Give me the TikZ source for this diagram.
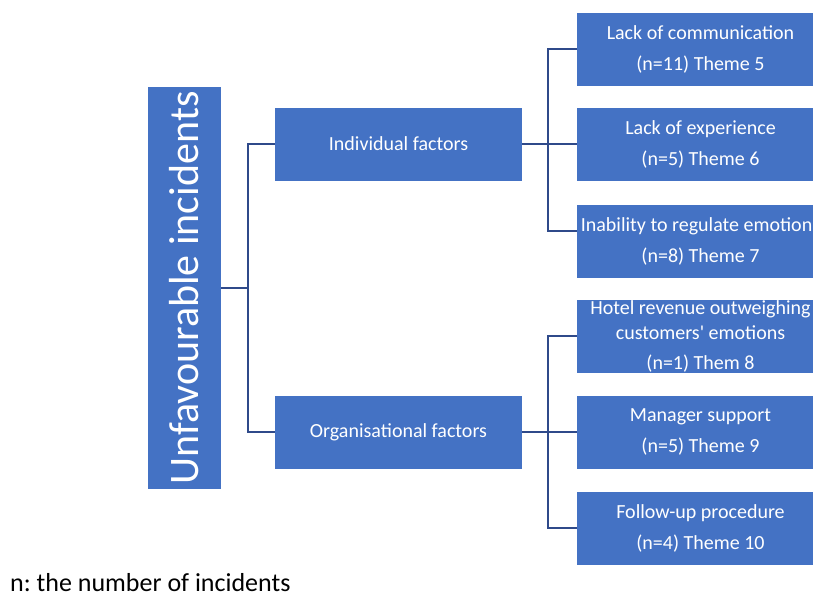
\documentclass[tikz,border=0pt]{standalone}
\usepackage{fontspec}
\setmainfont{Carlito}
\frenchspacing
\definecolor{boxblue}{HTML}{4472C4}
\definecolor{linkblue}{HTML}{2F4A8A}
\begin{document}
\begin{tikzpicture}[x=1pt,y=-1pt,
  box/.style={fill=boxblue, text=white, align=center, inner sep=0pt,
    minimum width=247pt, minimum height=73pt, font=\fontsize{20}{31}\selectfont},
  link/.style={draw=linkblue, line width=1.8pt}]
\useasboundingbox (0,0) rectangle (813,598);
\clip (0,0) rectangle (813,598);
\node[box, rotate=90, minimum width=402pt, minimum height=73pt, font=\fontsize{42}{42}\selectfont] (root) at (184.5,288) {Unfavourable incidents};
\node[box] (ind) at (398.5,144) {Individual factors};
\node[box] (org) at (398.5,432) {Organisational factors};
\node[box] (c1) at (700.5,49) {Lack of communication\\(n=11) Theme 5};
\node[box] (c2) at (700.5,144) {Lack of experience\\(n=5) Theme 6};
\node[box] (c3) at (700.5,241) {Inability to regulate emotions\\(n=8) Theme 7};
\node[box, font=\fontsize{20}{25}\selectfont] (c4) at (700.5,336) {Hotel revenue outweighing\\customers\textquotesingle{} emotions\\[5pt](n=1) Them 8};
\node[box] (c5) at (700.5,432) {Manager support\\(n=5) Theme 9};
\node[box] (c6) at (700.5,528) {Follow-up procedure\\(n=4) Theme 10};
\coordinate (s0) at (248,0);
\coordinate (s1) at (548,0);
\draw[link] (root.south) -- (root.south -| s0);
\draw[link] (ind.west) -- (ind.west -| s0) -- (org.west -| s0) -- (org.west);
\draw[link] (ind.east) -- (ind.east -| c2.west);
\draw[link] (c1.west) -- (c1.west -| s1) -- ([yshift=10pt]c3.west -| s1) -- ([yshift=10pt]c3.west);
\draw[link] (org.east) -- (org.east -| c5.west);
\draw[link] (c4.west) -- (c4.west -| s1) -- (c6.west -| s1) -- (c6.west);
\node[anchor=base west, font=\fontsize{26}{26}\selectfont, inner sep=0pt] (note) at (10,591) {n: the number of incidents};
\end{tikzpicture}
\end{document}
